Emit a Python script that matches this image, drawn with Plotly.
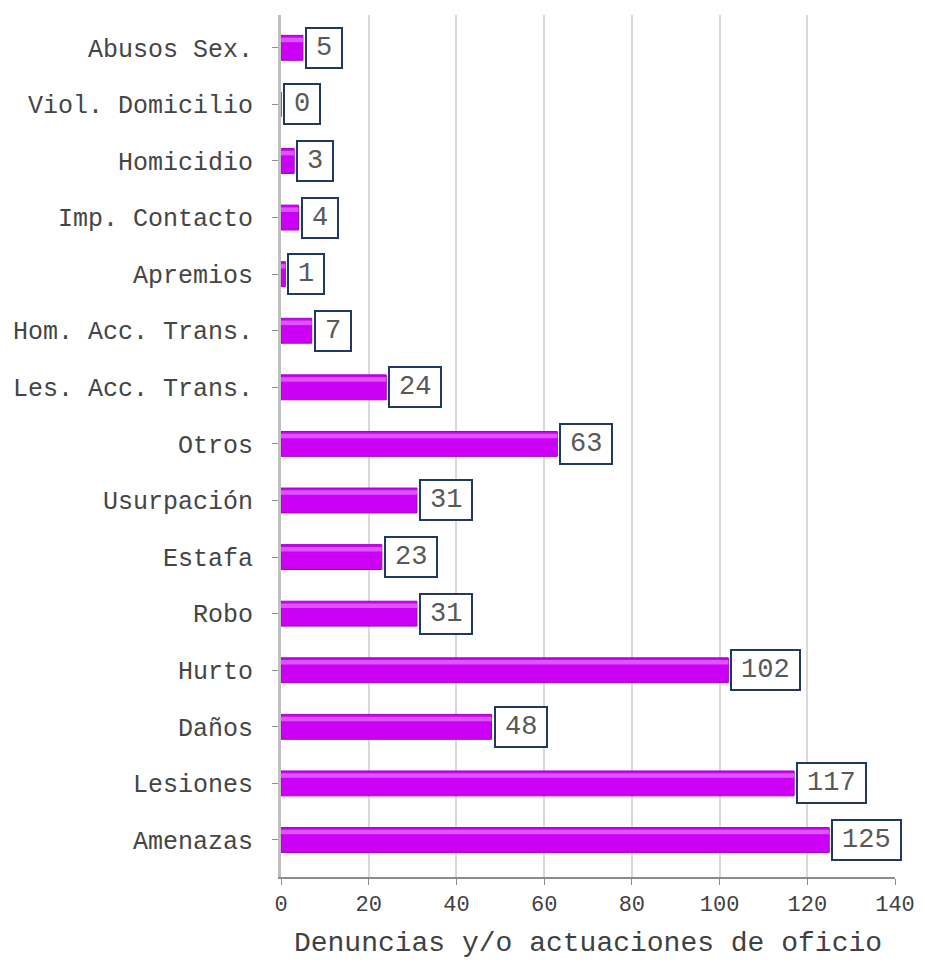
import plotly.graph_objects as go

categories = ["Amenazas", "Lesiones", "Daños", "Hurto", "Robo", "Estafa", "Usurpación",
              "Otros", "Les. Acc. Trans.", "Hom. Acc. Trans.", "Apremios", "Imp. Contacto",
              "Homicidio", "Viol. Domicilio", "Abusos Sex."]
values = [125, 117, 48, 102, 31, 23, 31, 63, 24, 7, 1, 4, 3, 0, 5]
x_ticks = [0, 20, 40, 60, 80, 100, 120, 140]

FONT = "Liberation Mono"
ypos = list(range(len(categories)))

fig = go.Figure()
fig.add_trace(go.Bar(
    y=ypos, x=values, orientation="h", width=0.44,
    marker=dict(color="#CC00F5", line=dict(color="#A000CC", width=1)),
    hoverinfo="skip",
))
# highlight stripe for a cylinder look
fig.add_trace(go.Bar(
    y=ypos, x=values, orientation="h", width=0.08, offset=0.1,
    marker=dict(color="#DD55FF", line=dict(width=0)),
    hoverinfo="skip",
))

LBL = 27
for yi, v in zip(ypos, values):
    s = str(v)
    fig.add_annotation(
        x=v, y=yi, xref="x", yref="y", text=s, showarrow=False,
        xanchor="left", yanchor="middle", xshift=2,
        width=len(s) * LBL * 0.6 + 10, align="center",
        font=dict(family=FONT, size=LBL, color="#595959"),
        bgcolor="white", bordercolor="#1F3864", borderwidth=2, borderpad=4,
    )

# page has an 8px body margin; size figure to avoid scrollbars
fig.update_layout(
    width=909, height=951,
    margin=dict(l=273, r=22, t=7, b=82),
    plot_bgcolor="white", paper_bgcolor="white",
    barmode="overlay", showlegend=False,
    font=dict(family=FONT, color="#404040"),
)
fig.update_xaxes(
    range=[0, 140], tickvals=x_ticks, ticktext=[str(t) for t in x_ticks],
    automargin=False,
    showgrid=True, gridcolor="#D9D9D9", gridwidth=1.5,
    showline=True, linecolor="#8C8C8C", linewidth=2,
    ticks="outside", ticklen=6, tickcolor="#8C8C8C",
    ticklabeloverflow="allow",
    tickfont=dict(family=FONT, size=22, color="#404040"),
    title=dict(text="Denuncias y/o actuaciones de oficio",
               font=dict(family=FONT, size=28, color="#404040"), standoff=14),
    zeroline=False,
)
fig.update_yaxes(
    range=[-0.654, 14.58], tickvals=ypos, ticktext=categories,
    automargin=False,
    showgrid=False, showline=True, linecolor="#BFBFBF", linewidth=3,
    ticks="outside", ticklen=6, tickcolor="#8C8C8C",
    ticklabelstandoff=14,
    tickfont=dict(family=FONT, size=25, color="#454545"),
    zeroline=False,
)

fig.write_html("out.html")
